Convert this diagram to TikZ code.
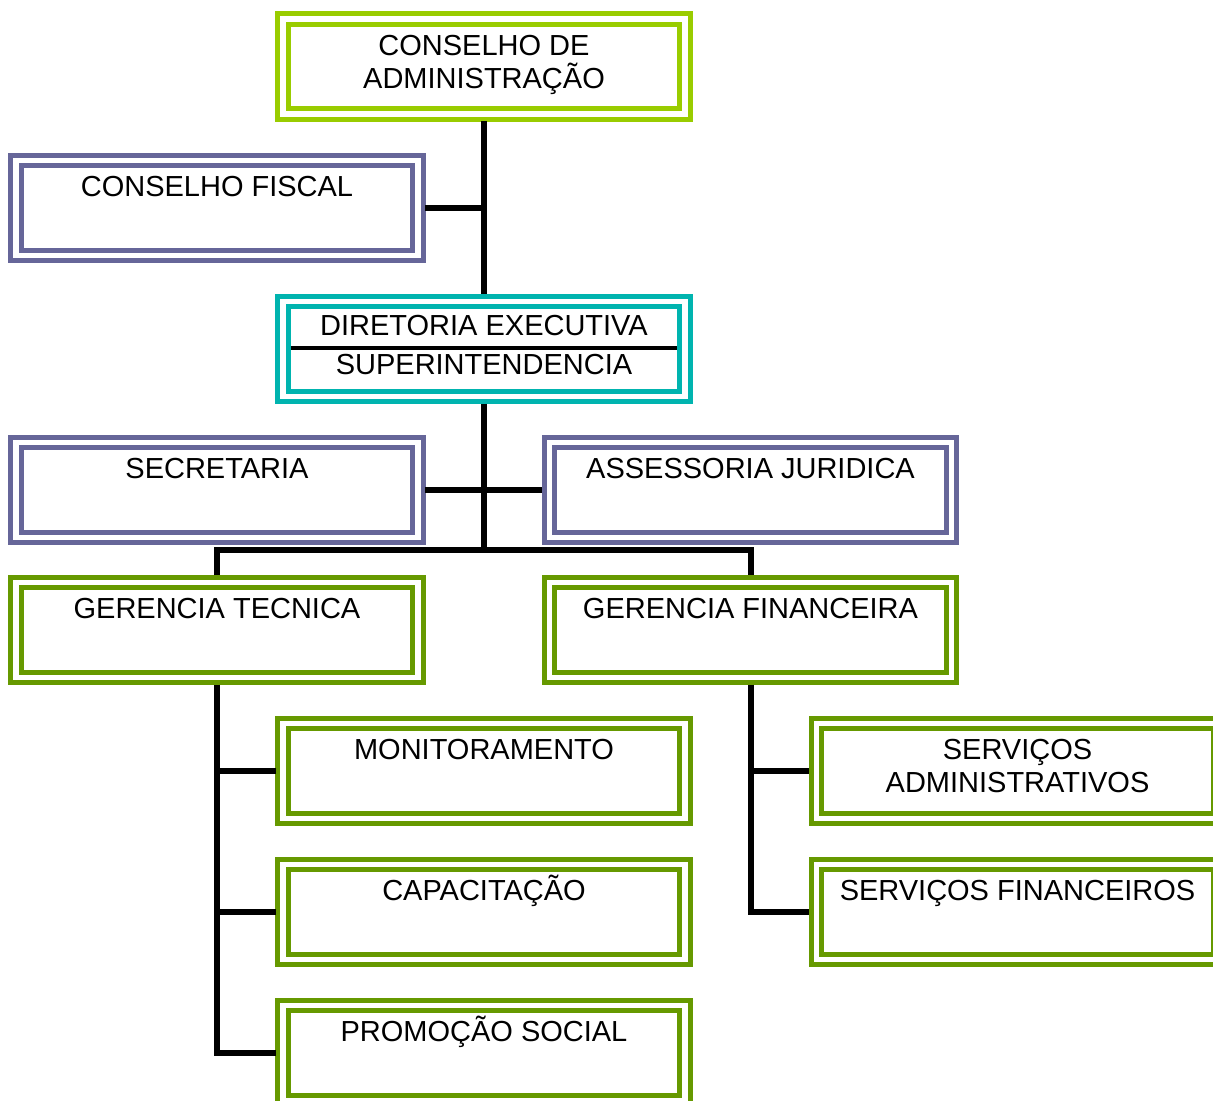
\documentclass[tikz,border=0pt]{standalone}
\usepackage{fontspec}
\setmainfont{Liberation Sans}
\definecolor{limegreen}{RGB}{153,204,0}
\definecolor{slatepurple}{RGB}{102,102,153}
\definecolor{tealbox}{RGB}{0,180,175}
\definecolor{olivegreen}{RGB}{102,153,0}
\tikzset{
	org chart/.style={
		x=0.02cm, y=0.02cm,
		wire/.style={draw=black, line width=0.12cm},
		rule/.style={draw=black, line width=0.08cm}
		},
	unit/.style={
		draw=#1, line width=0.1cm, double=white, double distance=0.11cm,
		minimum width=8.05cm, minimum height=1.91cm,
		inner sep=0pt, outer sep=0.14cm},
	unit name/.style={
		anchor=base, align=center, inner sep=0pt,
		font=\fontsize{16.5}{18.8}\selectfont}
}

\begin{document}
\begin{tikzpicture}[org chart]
	\useasboundingbox (0,0) rectangle (1213,-1101);
	\node[unit=limegreen] (ca) at (484,-66.5) {};
	\node[unit=slatepurple] (cf) at (217,-208) {};
	\node[unit=tealbox] (de) at (484,-349) {};
	\node[unit=slatepurple] (sec) at (217,-490) {};
	\node[unit=slatepurple] (aj) at (750.5,-490) {};
	\node[unit=olivegreen] (gt) at (217,-630) {};
	\node[unit=olivegreen] (gf) at (750.5,-630) {};
	\node[unit=olivegreen] (mon) at (484,-771) {};
	\node[unit=olivegreen] (cap) at (484,-912) {};
	\node[unit=olivegreen] (ps) at (484,-1053) {};
	\node[unit=olivegreen] (sa) at (1017.5,-771) {};
	\node[unit=olivegreen] (sf) at (1017.5,-912) {};
	% names
	\node[unit name] (ca_n) at ([yshift=-1.53cm]ca.north) {CONSELHO DE\\ADMINISTRAÇÃO};
	\node[unit name] (cf_n) at ([yshift=-0.87cm]cf.north) {CONSELHO FISCAL};
	\node[unit name] (de_n) at ([yshift=-1.61cm]de.north) {DIRETORIA EXECUTIVA\\[3.4pt]SUPERINTENDENCIA};
	\node[unit name] (sec_n) at ([yshift=-0.87cm]sec.north) {SECRETARIA};
	\node[unit name] (aj_n) at ([yshift=-0.87cm]aj.north) {ASSESSORIA JURIDICA};
	\node[unit name] (gt_n) at ([yshift=-0.87cm]gt.north) {GERENCIA TECNICA};
	\node[unit name] (gf_n) at ([yshift=-0.87cm]gf.north) {GERENCIA FINANCEIRA};
	\node[unit name] (mon_n) at ([yshift=-0.87cm]mon.north) {MONITORAMENTO};
	\node[unit name] (cap_n) at ([yshift=-0.87cm]cap.north) {CAPACITAÇÃO};
	\node[unit name] (ps_n) at ([yshift=-0.87cm]ps.north) {PROMOÇÃO SOCIAL};
	\node[unit name] (sa_n) at ([yshift=-1.53cm]sa.north) {SERVIÇOS\\ADMINISTRATIVOS};
	\node[unit name] (sf_n) at ([yshift=-0.87cm]sf.north) {SERVIÇOS FINANCEIROS};
	\draw[rule] ([xshift=0.3cm,yshift=0.02cm]de.west) -- ([xshift=-0.3cm,yshift=0.02cm]de.east);
	% links
	\coordinate (bus) at (484,-550);
	\draw[wire] (ca) -- (de);
	\draw[wire] (cf) -- (cf -| ca.south);
	\draw[wire] (sec) -- (aj);
	\draw[wire] (de) -- (bus);
	\draw[wire] (gt) |- (bus) -| (gf);
	\draw[wire] (gt) |- (mon) (gt) |- (cap) (gt) |- (ps);
	\draw[wire] (gf) |- (sa) (gf) |- (sf);
\end{tikzpicture}
\end{document}
